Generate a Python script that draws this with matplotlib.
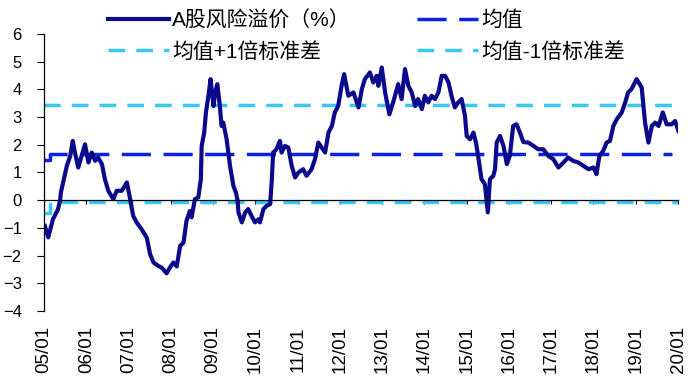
import matplotlib
matplotlib.use("Agg")
import matplotlib.pyplot as plt

plt.rcParams['font.family'] = ['Liberation Sans', 'Noto Sans CJK SC', 'DejaVu Sans']
plt.rcParams['lines.scale_dashes'] = False

# A股风险溢价, decimal year vs value (%)
dates = [2005.02, 2005.10, 2005.21, 2005.33, 2005.38, 2005.40, 2005.46, 2005.54, 2005.62, 2005.68,
         2005.73, 2005.81, 2005.89, 2005.97, 2006.05, 2006.13, 2006.21, 2006.28, 2006.37, 2006.44,
         2006.52, 2006.64, 2006.72, 2006.84, 2006.96, 2007.03, 2007.11, 2007.19, 2007.31, 2007.43,
         2007.51, 2007.59, 2007.70, 2007.78, 2007.90, 2007.98, 2008.06, 2008.14, 2008.22, 2008.30,
         2008.37, 2008.45, 2008.49, 2008.57, 2008.65, 2008.71, 2008.73, 2008.79, 2008.83, 2008.89,
         2008.94, 2009.01, 2009.05, 2009.10, 2009.16, 2009.20, 2009.24, 2009.32, 2009.40, 2009.48,
         2009.54, 2009.58, 2009.60, 2009.68, 2009.76, 2009.83, 2009.91, 2009.99, 2010.07, 2010.11,
         2010.19, 2010.27, 2010.35, 2010.39, 2010.42, 2010.50, 2010.58, 2010.62, 2010.70, 2010.78,
         2010.86, 2010.94, 2011.02, 2011.13, 2011.21, 2011.33, 2011.41, 2011.49, 2011.57, 2011.65,
         2011.73, 2011.81, 2011.88, 2011.96, 2012.04, 2012.10, 2012.20, 2012.32, 2012.44, 2012.52,
         2012.59, 2012.71, 2012.79, 2012.87, 2012.91, 2012.99, 2013.07, 2013.17, 2013.26, 2013.38,
         2013.46, 2013.54, 2013.62, 2013.70, 2013.78, 2013.85, 2013.94, 2014.01, 2014.09, 2014.17,
         2014.25, 2014.33, 2014.41, 2014.49, 2014.57, 2014.65, 2014.72, 2014.80, 2014.88, 2014.96,
         2015.00, 2015.08, 2015.16, 2015.22, 2015.27, 2015.35, 2015.43, 2015.50, 2015.55, 2015.63,
         2015.67, 2015.71, 2015.79, 2015.87, 2015.95, 2016.02, 2016.10, 2016.18, 2016.26, 2016.34,
         2016.46, 2016.58, 2016.69, 2016.81, 2016.93, 2017.05, 2017.17, 2017.29, 2017.40, 2017.52,
         2017.64, 2017.76, 2017.88, 2018.00, 2018.07, 2018.14, 2018.23, 2018.31, 2018.39, 2018.47,
         2018.55, 2018.67, 2018.75, 2018.82, 2018.90, 2019.02, 2019.14, 2019.22, 2019.30, 2019.38,
         2019.46, 2019.54, 2019.64, 2019.73, 2019.85, 2019.93, 2020.01]
premium = [-0.93, -1.34, -0.69, -0.33, 0.00, 0.29, 0.70, 1.24, 1.60, 2.14,
           1.73, 1.18, 1.60, 2.02, 1.36, 1.72, 1.42, 1.54, 1.30, 0.76,
           0.34, 0.04, 0.34, 0.34, 0.64, 0.10, -0.57, -0.80, -1.05, -1.35,
           -1.95, -2.25, -2.37, -2.43, -2.64, -2.43, -2.25, -2.39, -1.65, -1.53,
           -0.75, -0.39, -0.62, 0.04, 0.10, 0.76, 1.96, 2.44, 3.17, 3.77,
           4.37, 3.40, 3.89, 4.19, 3.40, 2.68, 2.80, 2.20, 1.24, 0.52,
           0.28, -0.02, -0.44, -0.80, -0.44, -0.32, -0.57, -0.80, -0.69, -0.80,
           -0.32, -0.20, -0.14, 0.76, 1.72, 1.84, 2.14, 1.72, 1.96, 1.90,
           1.24, 0.82, 1.00, 1.12, 0.88, 1.12, 1.48, 2.08, 1.90, 1.72,
           2.44, 2.68, 3.17, 3.40, 4.13, 4.55, 3.77, 3.89, 3.35, 4.01,
           4.37, 4.61, 4.25, 4.49, 4.13, 4.79, 3.89, 3.10, 3.53, 4.19,
           3.65, 4.73, 4.13, 3.89, 3.40, 3.65, 3.29, 3.77, 3.53, 3.77,
           3.65, 3.89, 4.49, 4.49, 4.25, 3.71, 3.35, 3.53, 3.65, 3.04,
           2.32, 2.20, 2.44, 2.08, 1.60, 0.76, 0.58, -0.44, 0.76, 0.88,
           1.12, 2.08, 2.32, 1.96, 1.30, 1.60, 2.68, 2.74, 2.44, 2.10,
           2.08, 1.96, 1.84, 1.84, 1.60, 1.48, 1.18, 1.36, 1.54, 1.42,
           1.36, 1.24, 1.12, 1.18, 0.94, 1.60, 1.78, 2.08, 2.14, 2.68,
           2.92, 3.17, 3.53, 3.89, 4.01, 4.37, 4.07, 2.80, 2.08, 2.68,
           2.80, 2.68, 3.17, 2.74, 2.74, 2.86, 2.50]

mean_dates = [2005.00, 2005.15, 2005.15, 2019.86]
mean_vals = [1.45, 1.45, 1.68, 1.68]
upper_dates = [2005.00, 2019.90, 2020.01]
upper_vals = [3.42, 3.42, 3.50]
lower_dates = [2005.00, 2005.15, 2005.15, 2020.01]
lower_vals = [-0.45, -0.45, -0.06, -0.06]

tick_years = list(range(2005, 2021))
tick_labels = ['%02d/01' % (y % 100) for y in tick_years]

fig = plt.figure(figsize=(7.0, 3.81), dpi=100)
ax = fig.add_axes([0.0629, 0.1837, 0.9057, 0.7271])

c_main = '#0a0a8a'
c_mean = '#0a22e8'
c_band = '#38c8f4'

band_dash = (12, 8)
mean_dash = (21, 9)

l_up, = ax.plot(upper_dates, upper_vals, color=c_band, lw=2.5, dashes=band_dash,
                label='均值+1倍标准差')
ax.plot(lower_dates, lower_vals, color=c_band, lw=2.5, dashes=band_dash)
l_lo, = ax.plot([], [], color=c_band, lw=2.5, dashes=band_dash, label='均值-1倍标准差')
l_mean, = ax.plot(mean_dates, mean_vals, color=c_mean, lw=2.5, dashes=mean_dash, label='均值')
l_main, = ax.plot(dates, premium, color=c_main, lw=3.0, label='A股风险溢价（%）',
                  solid_joinstyle='round')

ax.set_xlim(2005, 2020)
ax.set_ylim(-4, 6)
ax.set_yticks(range(-4, 7))
ax.tick_params(axis='y', direction='out', length=5, width=0.8, pad=11, labelsize=12)

ax.spines['top'].set_visible(False)
ax.spines['right'].set_visible(False)
ax.spines['bottom'].set_position(('data', 0))
ax.spines['left'].set_linewidth(0.9)
ax.spines['bottom'].set_linewidth(0.9)
ax.set_xticks(tick_years)
ax.tick_params(axis='x', direction='out', length=3, width=0.8, labelbottom=False)

sec = ax.secondary_xaxis('bottom')
sec.set_xticks(tick_years, tick_labels)
sec.spines['bottom'].set_visible(False)
sec.tick_params(axis='x', length=0, pad=11, labelsize=13.5, labelrotation=90)

fig.legend(handles=[l_main, l_up, l_mean, l_lo], ncol=2, frameon=False,
           loc='upper left', bbox_to_anchor=(0.143, 0.995), fontsize=15,
           handlelength=2.9, handletextpad=0.15, columnspacing=3.2,
           labelspacing=0.55, borderaxespad=0.2, borderpad=0.2)

fig.savefig('out.png', dpi=100)
